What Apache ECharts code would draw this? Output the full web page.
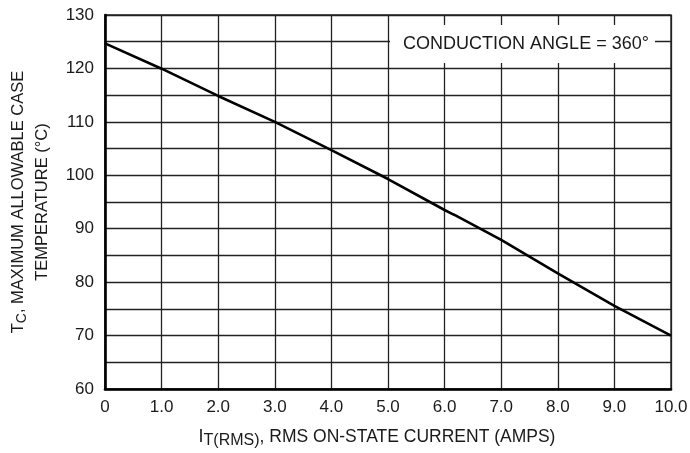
<!DOCTYPE html>
<html>
<head>
<meta charset="utf-8">
<script src="https://cdn.jsdelivr.net/npm/echarts@6/dist/echarts.min.js"></script>
<style>
html,body{margin:0;padding:0;background:#fff;}
#chart{width:690px;height:453px;}
</style>
</head>
<body>
<div id="chart"></div>
<script>
// Data
var currentAmps = [0, 1, 2, 3, 4, 5, 6, 6.15, 6.2, 7, 8, 9, 10];
var caseTempC   = [124.7, 119.95, 114.85, 110.0, 104.7, 99.3, 93.5, 92.7, 92.45, 87.9, 81.65, 75.55, 70.0];
var xTickValues = [0, 1, 2, 3, 4, 5, 6, 7, 8, 9, 10];
var yTickLabels = [60, 70, 80, 90, 100, 110, 120, 130];
var annotationText = 'CONDUCTION ANGLE = 360°';

var seriesData = currentAmps.map(function (x, i) { return [x, caseTempC[i]]; });

var chart = echarts.init(document.getElementById('chart'), null, {renderer: 'canvas'});
var FONT = '"Liberation Sans", Arial, sans-serif';
var ink = '#1a1a1a';

chart.setOption({
  animation: false,
  backgroundColor: '#fff',
  grid: {left: 105, right: 19, top: 15, bottom: 64, show: true, borderColor: '#222', borderWidth: 1.4,
         containLabel: false, outerBoundsMode: 'none'},
  xAxis: {
    type: 'value', min: 0, max: 10, interval: 1,
    axisLine: {show: true, onZero: false, lineStyle: {color: '#000', width: 2.6}},
    axisTick: {show: false},
    splitLine: {show: true, lineStyle: {color: '#222', width: 1.3}},
    axisLabel: {
      margin: 10, fontFamily: FONT, fontSize: 17, color: ink,
      formatter: function (v) { return xTickValues.indexOf(v) < 0 ? '' : (v === 0 ? '0' : v.toFixed(1)); }
    },
    name: '{i|I}{s|T(RMS)}{n|, RMS ON-STATE CURRENT (AMPS)}',
    nameLocation: 'middle', nameGap: 36,
    nameTextStyle: {
      padding: [0, 22, 0, 0],
      rich: {
        i: {fontFamily: FONT, fontSize: 18, color: ink},
        s: {fontFamily: FONT, fontSize: 16, color: ink, verticalAlign: 'bottom', padding: [8, 0, 0, 0]},
        n: {fontFamily: FONT, fontSize: 17.5, color: ink}
      }
    }
  },
  yAxis: {
    type: 'value', min: 60, max: 130, interval: 5,
    axisLine: {show: true, onZero: false, lineStyle: {color: '#000', width: 2.6}},
    axisTick: {show: false},
    splitLine: {show: true, lineStyle: {color: '#222', width: 1.3}},
    axisLabel: {
      margin: 11, fontFamily: FONT, fontSize: 17, color: ink,
      formatter: function (v) { return yTickLabels.indexOf(v) < 0 ? '' : String(v); }
    },
    name: '{t|T}{s|C}{t|, MAXIMUM ALLOWABLE CASE}\n{t|TEMPERATURE (°C)}',
    nameLocation: 'middle', nameRotate: 90, nameGap: 43,
    nameTextStyle: {
      align: 'center', lineHeight: 24,
      rich: {
        t: {fontFamily: FONT, fontSize: 16.5, color: ink, lineHeight: 24},
        s: {fontFamily: FONT, fontSize: 14, color: ink, lineHeight: 24, padding: [6, 0, 0, 0]}
      }
    }
  },
  graphic: [
    {
      type: 'rect', left: 390, top: 25, z: 100,
      shape: {width: 265, height: 38},
      style: {fill: '#fff', stroke: null}
    },
    {
      type: 'text', x: 526, y: 44, z: 101,
      style: {text: annotationText, fontFamily: FONT, fontSize: 18, fill: ink, align: 'center', verticalAlign: 'middle'}
    }
  ],
  series: [{
    type: 'line', data: seriesData, showSymbol: false, smooth: false,
    lineStyle: {color: '#000', width: 2.6}, z: 5
  }]
});
</script>
</body>
</html>
